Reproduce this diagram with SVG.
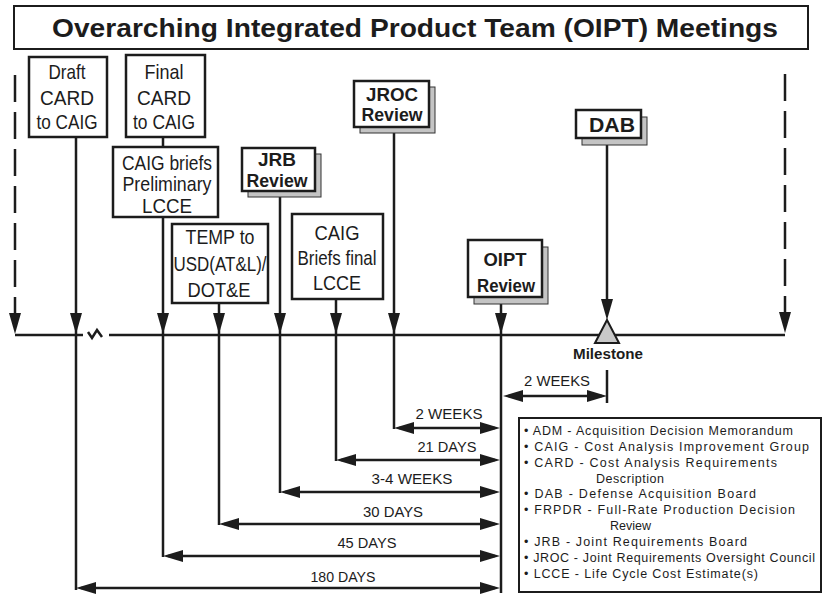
<svg xmlns="http://www.w3.org/2000/svg" width="823" height="595" viewBox="0 0 823 595">
<defs>
<style>
.box{fill:#fff;stroke:#1c1c1c;stroke-width:2.5}
.shadow{fill:#c4c4c4;stroke:#333;stroke-width:1}
.ln{stroke:#1c1c1c;stroke-width:2.5;fill:none}
.dash{stroke-dasharray:27 10}
.t{font-family:"Liberation Sans",Arial,Helvetica,sans-serif;fill:#1c1c1c;text-anchor:middle}
.lbl{font-size:21px}
.b{font-weight:bold}
.row{font-size:14px}
.leg{font-size:12.5px;text-anchor:start}
.ah{fill:#1c1c1c}
</style>
<marker id="ah" markerUnits="userSpaceOnUse" markerWidth="20" markerHeight="12" refX="15" refY="6" orient="auto-start-reverse" viewBox="0 0 20 12">
<path d="M0,0L20,6L0,12z" fill="#1c1c1c"/>
</marker>
<path id="dn" d="M-6,-21L6,-21L0,0z"/>
</defs>

<g id="title">
<rect x="14" y="6" width="794" height="43" fill="#fff" stroke="#1c1c1c" stroke-width="2"/>
<text class="t b" x="415" y="37" font-size="26" textLength="726" lengthAdjust="spacingAndGlyphs">Overarching Integrated  Product Team (OIPT) Meetings</text>
</g>

<g id="connectors">
<path class="ln dash" d="M15,75V313"/>
<path class="ln dash" d="M785,74V312"/>
<path class="ln" d="M15,335H83M109,335H785"/>
<path class="ln" stroke-width="2" d="M88,332L92,338L97,330L102,337"/>
<path class="ln" d="M76,137V590"/>
<path class="ln" d="M163,137V147M163,217V557"/>
<path class="ln" d="M219,303V525"/>
<path class="ln" d="M280,191V493"/>
<path class="ln" d="M336,299V461"/>
<path class="ln" d="M394,127V429"/>
<path class="ln" d="M501,297V593"/>
<path class="ln" d="M607,138V302"/>
<path class="ln" d="M607,370V403"/>
<g class="ah">
<use href="#dn" x="15" y="334"/>
<use href="#dn" x="76" y="334"/>
<use href="#dn" x="163" y="334"/>
<use href="#dn" x="219" y="334"/>
<use href="#dn" x="280" y="334"/>
<use href="#dn" x="336" y="334"/>
<use href="#dn" x="394" y="334"/>
<use href="#dn" x="501" y="334"/>
<use href="#dn" x="607" y="320"/>
<use href="#dn" x="785" y="333"/>
</g>
<g class="ln" marker-start="url(#ah)" marker-end="url(#ah)">
<line x1="508" y1="396" x2="602" y2="396"/>
<line x1="399" y1="428" x2="495" y2="428"/>
<line x1="341" y1="460" x2="495" y2="460"/>
<line x1="285" y1="492" x2="495" y2="492"/>
<line x1="224" y1="524" x2="495" y2="524"/>
<line x1="168" y1="556" x2="495" y2="556"/>
<line x1="81" y1="588" x2="495" y2="588"/>
</g>
<g class="t row">
<text x="557" y="386" textLength="66" lengthAdjust="spacingAndGlyphs">2 WEEKS</text>
<text x="449" y="419" textLength="67" lengthAdjust="spacingAndGlyphs">2 WEEKS</text>
<text x="447" y="452" textLength="59" lengthAdjust="spacingAndGlyphs">21 DAYS</text>
<text x="412" y="484" textLength="81" lengthAdjust="spacingAndGlyphs">3-4 WEEKS</text>
<text x="393" y="517" textLength="60" lengthAdjust="spacingAndGlyphs">30 DAYS</text>
<text x="367" y="548" textLength="59" lengthAdjust="spacingAndGlyphs">45 DAYS</text>
<text x="343" y="582" textLength="65" lengthAdjust="spacingAndGlyphs">180 DAYS</text>
</g>
</g>

<g id="milestone">
<path d="M607,320L619,343L595,343z" fill="#c8c8c8" stroke="#1c1c1c" stroke-width="2"/>
<text class="t b" x="608" y="359" font-size="14" textLength="70" lengthAdjust="spacingAndGlyphs">Milestone</text>
</g>

<g id="draft-card">
<rect class="box" x="29" y="57" width="78" height="80"/>
<text class="t lbl" x="67" y="79" textLength="37" lengthAdjust="spacingAndGlyphs">Draft</text>
<text class="t lbl" x="67" y="105" textLength="54" lengthAdjust="spacingAndGlyphs">CARD</text>
<text class="t lbl" x="67" y="129" textLength="61" lengthAdjust="spacingAndGlyphs">to CAIG</text>
</g>

<g id="final-card">
<rect class="box" x="126" y="55" width="79" height="82"/>
<text class="t lbl" x="164" y="79" textLength="39" lengthAdjust="spacingAndGlyphs">Final</text>
<text class="t lbl" x="164" y="105" textLength="54" lengthAdjust="spacingAndGlyphs">CARD</text>
<text class="t lbl" x="164" y="129" textLength="62" lengthAdjust="spacingAndGlyphs">to CAIG</text>
</g>

<g id="caig-prelim">
<rect class="box" x="113" y="147" width="105" height="70"/>
<text class="t lbl" x="167" y="170" textLength="90" lengthAdjust="spacingAndGlyphs">CAIG briefs</text>
<text class="t lbl" x="167" y="191" textLength="89" lengthAdjust="spacingAndGlyphs">Preliminary</text>
<text class="t lbl" x="167" y="213" textLength="50" lengthAdjust="spacingAndGlyphs">LCCE</text>
</g>

<g id="temp">
<rect class="box" x="172" y="224" width="96" height="79"/>
<text class="t lbl" x="220" y="244" textLength="69" lengthAdjust="spacingAndGlyphs">TEMP  to</text>
<text class="t lbl" x="220" y="271" textLength="93" lengthAdjust="spacingAndGlyphs">USD(AT&amp;L)/</text>
<text class="t lbl" x="219" y="297" textLength="63" lengthAdjust="spacingAndGlyphs">DOT&amp;E</text>
</g>

<g id="jrb">
<rect class="shadow" x="248" y="154" width="73" height="43"/>
<rect class="box" x="242" y="148" width="73" height="43"/>
<text class="t b" x="277" y="166" font-size="19" textLength="38" lengthAdjust="spacingAndGlyphs">JRB</text>
<text class="t b" x="277" y="187" font-size="19" textLength="61" lengthAdjust="spacingAndGlyphs">Review</text>
</g>

<g id="caig-final">
<rect class="box" x="292" y="214" width="91" height="85"/>
<text class="t lbl" x="337" y="240" textLength="45" lengthAdjust="spacingAndGlyphs">CAIG</text>
<text class="t lbl" x="337" y="265" textLength="79" lengthAdjust="spacingAndGlyphs">Briefs final</text>
<text class="t lbl" x="337" y="290" textLength="48" lengthAdjust="spacingAndGlyphs">LCCE</text>
</g>

<g id="jroc">
<rect class="shadow" x="360" y="87" width="75" height="46"/>
<rect class="box" x="354" y="81" width="75" height="46"/>
<text class="t b" x="392" y="101" font-size="18.5" textLength="52" lengthAdjust="spacingAndGlyphs">JROC</text>
<text class="t b" x="392" y="121" font-size="18.5" textLength="61" lengthAdjust="spacingAndGlyphs">Review</text>
</g>

<g id="oipt">
<rect class="shadow" x="474" y="247" width="74" height="57"/>
<rect class="box" x="468" y="240" width="74" height="57"/>
<text class="t b" x="505" y="266" font-size="19" textLength="43" lengthAdjust="spacingAndGlyphs">OIPT</text>
<text class="t b" x="506" y="292" font-size="19" textLength="58" lengthAdjust="spacingAndGlyphs">Review</text>
</g>

<g id="dab">
<rect class="shadow" x="582" y="117" width="65" height="28"/>
<rect class="box" x="576" y="110" width="65" height="28"/>
<text class="t b" x="612" y="132" font-size="20" textLength="46" lengthAdjust="spacingAndGlyphs">DAB</text>
</g>

<g id="legend">
<rect x="519" y="418" width="302" height="174" fill="#fff" stroke="#1c1c1c" stroke-width="2"/>
<g class="t leg">
<text x="524" y="435" textLength="269" lengthAdjust="spacing">• ADM - Acquisition Decision Memorandum</text>
<text x="524" y="451" textLength="285" lengthAdjust="spacing">• CAIG - Cost Analysis Improvement Group</text>
<text x="524" y="467" textLength="253" lengthAdjust="spacing">• CARD - Cost Analysis Requirements</text>
<text x="596" y="483" textLength="68" lengthAdjust="spacing">Description</text>
<text x="524" y="498" textLength="232" lengthAdjust="spacing">• DAB - Defense Acquisition Board</text>
<text x="524" y="514" textLength="271" lengthAdjust="spacing">• FRPDR - Full-Rate Production Decision</text>
<text x="610" y="530">Review</text>
<text x="524" y="546" textLength="223" lengthAdjust="spacing">• JRB - Joint Requirements Board</text>
<text x="524" y="562" textLength="291" lengthAdjust="spacing">• JROC - Joint Requirements Oversight Council</text>
<text x="524" y="578" textLength="234" lengthAdjust="spacing">• LCCE - Life Cycle Cost Estimate(s)</text>
</g>
</g>
</svg>
